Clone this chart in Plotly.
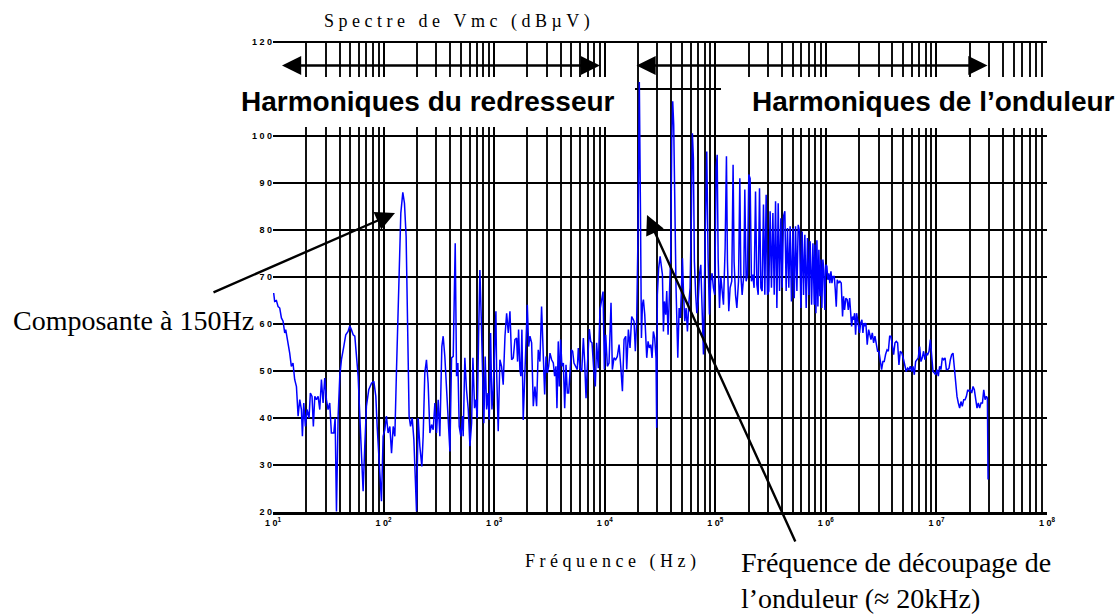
import numpy as np
import plotly.graph_objects as go

# Spectrum: frequency given in decades (log10 of Hz), level in dBuV
freq_log10 = [
    1.006, 1.015, 1.031, 1.046, 1.061, 1.076, 1.091, 1.106, 1.115, 1.136, 1.151, 1.166, 1.181, 1.196, 1.212,
    1.227, 1.242, 1.257, 1.266, 1.278, 1.293, 1.308, 1.326, 1.338, 1.353, 1.365, 1.378, 1.393, 1.408, 1.423,
    1.438, 1.453, 1.468, 1.483, 1.498, 1.513, 1.528, 1.550, 1.562, 1.574, 1.589, 1.604, 1.619, 1.640, 1.658,
    1.679, 1.694, 1.709, 1.725, 1.740, 1.755, 1.770, 1.785, 1.800, 1.815, 1.830, 1.845, 1.866, 1.891, 1.912,
    1.930, 1.942, 1.960, 1.981, 1.996, 2.011, 2.026, 2.041, 2.057, 2.072, 2.087, 2.102, 2.117, 2.141, 2.156,
    2.174, 2.189, 2.204, 2.219, 2.231, 2.244, 2.259, 2.274, 2.286, 2.298, 2.313, 2.328, 2.346, 2.358, 2.373,
    2.388, 2.403, 2.419, 2.434, 2.449, 2.464, 2.479, 2.494, 2.509, 2.527, 2.539, 2.554,
    2.600, 2.615, 2.630, 2.648, 2.660, 2.672, 2.684, 2.699, 2.714, 2.720, 2.735, 2.750, 2.766, 2.781, 2.796,
    2.808, 2.823, 2.835, 2.847, 2.859, 2.871, 2.883, 2.895, 2.907, 2.919, 2.932, 2.944, 2.956, 2.968, 2.980,
    2.992, 3.004, 3.016, 3.022, 3.037, 3.052, 3.067, 3.082, 3.098, 3.113, 3.128, 3.143, 3.158, 3.173, 3.188,
    3.203, 3.212, 3.221, 3.233, 3.242, 3.251, 3.263, 3.279, 3.288, 3.300, 3.312, 3.324, 3.339, 3.354, 3.369,
    3.384, 3.399, 3.414, 3.429, 3.445, 3.457, 3.469, 3.481, 3.493, 3.505, 3.520, 3.535, 3.547, 3.559, 3.568,
    3.580, 3.589, 3.601, 3.613, 3.626, 3.638, 3.650, 3.662, 3.674, 3.686, 3.698, 3.710, 3.722, 3.737, 3.752,
    3.761, 3.776, 3.792, 3.807, 3.819, 3.831, 3.843, 3.861, 3.873, 3.885, 3.900, 3.915, 3.927, 3.942, 3.957,
    3.973, 3.985, 3.997, 4.009, 4.024, 4.039, 4.057, 4.069, 4.084, 4.099, 4.114, 4.130, 4.145, 4.160, 4.175,
    4.190, 4.199, 4.214, 4.229, 4.244, 4.259,
    4.265, 4.277, 4.289, 4.301, 4.313, 4.323, 4.332, 4.341, 4.350, 4.362, 4.371, 4.380, 4.392, 4.404, 4.416,
    4.428, 4.440, 4.452, 4.464, 4.470, 4.476, 4.488, 4.501, 4.513, 4.522, 4.531, 4.540, 4.552, 4.561, 4.573,
    4.585, 4.597, 4.606, 4.615, 4.624, 4.633, 4.645, 4.661, 4.673, 4.685, 4.694, 4.703, 4.712, 4.724, 4.736,
    4.748, 4.760, 4.772, 4.784, 4.793, 4.802, 4.811, 4.823, 4.833, 4.845, 4.857, 4.869, 4.881, 4.893, 4.905,
    4.923, 4.935, 4.947, 4.959, 4.971, 4.983, 4.995, 5.008, 5.017, 5.026, 5.038, 5.050, 5.062, 5.074, 5.089,
    5.101, 5.110, 5.122, 5.134, 5.149, 5.161, 5.170, 5.183, 5.195, 5.210, 5.222, 5.231, 5.243, 5.258, 5.267,
    5.279, 5.291, 5.303, 5.315, 5.327, 5.339, 5.351, 5.364, 5.376, 5.388, 5.400, 5.412, 5.424, 5.436, 5.448,
    5.460, 5.472, 5.484, 5.496, 5.508, 5.521, 5.533, 5.545, 5.557, 5.569, 5.581, 5.593, 5.605, 5.617, 5.629,
    5.641, 5.653, 5.665, 5.677, 5.689, 5.702, 5.714, 5.726, 5.738, 5.750, 5.762, 5.774, 5.786, 5.798, 5.810,
    5.822, 5.834, 5.846, 5.858, 5.871, 5.883, 5.895,
    5.901, 5.910, 5.919, 5.928, 5.937, 5.946, 5.955, 5.964, 5.973, 5.982, 5.991, 6.000, 6.009, 6.018, 6.027,
    6.036, 6.046, 6.055, 6.064, 6.076, 6.085, 6.094, 6.103, 6.115, 6.127, 6.139, 6.151, 6.160, 6.169, 6.181,
    6.193, 6.203, 6.215, 6.224, 6.233, 6.242, 6.251, 6.260, 6.269, 6.278, 6.287, 6.296, 6.305, 6.314, 6.326,
    6.335, 6.344, 6.353, 6.362, 6.374, 6.387, 6.396, 6.408, 6.420, 6.432, 6.444, 6.456, 6.468, 6.480, 6.492,
    6.504, 6.516, 6.528, 6.540, 6.553, 6.565, 6.577, 6.589, 6.601, 6.613, 6.625, 6.637, 6.649, 6.661, 6.673,
    6.688, 6.703, 6.715, 6.727, 6.740, 6.752, 6.764, 6.776, 6.788, 6.800, 6.812, 6.824, 6.836, 6.848, 6.860,
    6.872, 6.884, 6.896, 6.909, 6.921, 6.933, 6.945, 6.957, 6.969, 6.981, 6.993, 7.005, 7.017, 7.029, 7.041,
    7.053, 7.065, 7.078, 7.090, 7.102, 7.114, 7.126, 7.138, 7.150, 7.162, 7.174, 7.186, 7.198, 7.210, 7.222,
    7.234, 7.247, 7.259, 7.271, 7.283, 7.295, 7.307, 7.319, 7.331, 7.343, 7.355, 7.367, 7.379, 7.391, 7.403,
    7.416, 7.428, 7.440, 7.452, 7.461, 7.467,
]

level_dbuv = [
    66.6, 64.8, 65.0, 63.7, 63.4, 61.3, 60.6, 58.1, 58.8, 56.0, 53.8, 51.0, 51.7, 48.2, 46.7,
    40.4, 43.9, 41.8, 36.1, 43.2, 38.2, 41.8, 40.0, 45.3, 44.6, 38.2, 44.6, 43.9, 44.6, 41.8,
    48.2, 43.2, 48.5, 43.9, 41.8, 43.2, 36.8, 36.8, 40.0, 20.1, 40.4, 48.9, 52.4, 55.2, 57.7,
    58.4, 59.6, 58.8, 57.7, 57.4, 53.1, 48.9, 40.4, 31.8, 24.4, 34.0, 42.5, 46.0, 47.4, 47.8,
    44.6, 38.2, 30.4, 22.3, 36.1, 37.5, 40.4, 36.8, 38.2, 32.5, 38.2, 36.1, 50.3, 71.5, 83.6,
    88.0, 85.7, 78.6, 57.4, 40.4, 38.2, 40.0, 35.4, 27.6, 20.1, 40.0, 34.0, 29.7, 36.1, 49.6,
    52.4, 47.4, 36.8, 38.6, 37.5, 43.2, 36.8, 43.9, 36.1, 55.2, 57.4, 53.1,
    32.9, 52.8, 53.1, 77.2, 48.9, 51.7, 38.2, 36.1, 40.4, 36.1, 52.8, 46.0, 41.8, 34.0, 38.9,
    52.8, 42.1, 43.9, 40.0, 56.7, 71.5, 61.6, 50.3, 38.9, 53.1, 41.8, 45.3, 39.6, 58.1, 41.8,
    46.0, 56.7, 62.7, 50.3, 37.2, 52.4, 51.0, 47.1, 57.4, 62.3, 58.1, 62.7, 52.4, 52.8, 56.7,
    57.0, 52.0, 58.8, 50.3, 48.9, 58.8, 39.6, 50.3, 58.8, 64.1, 55.2, 57.4, 56.0, 42.5, 46.7,
    42.5, 54.5, 52.0, 63.7, 51.0, 45.0, 53.1, 49.6, 51.0, 53.8, 52.4, 51.7, 48.9, 51.0, 42.1,
    56.3, 46.7, 56.7, 51.0, 51.7, 42.1, 51.3, 45.3, 45.3, 49.6, 54.5, 54.2, 51.7, 51.0, 50.3,
    54.9, 50.6, 49.9, 57.0, 51.7, 44.2, 51.0, 58.9, 56.3, 56.0, 50.6, 46.7, 56.0, 50.6, 63.0,
    65.9, 66.9, 50.3, 57.7, 51.0, 51.7, 64.5, 50.3, 52.8, 52.4, 53.1, 55.6, 51.0, 45.7, 56.7,
    57.4, 50.3, 58.8, 54.9, 61.6, 60.9,
    60.6, 54.2, 60.6, 79.0, 111.5, 84.7, 57.0, 64.1, 65.2, 62.0, 57.0, 52.8, 56.3, 54.9, 55.6,
    52.8, 58.4, 57.0, 52.8, 37.9, 66.2, 71.9, 74.4, 71.9, 70.5, 58.4, 64.8, 62.0, 67.0, 57.7,
    69.1, 74.7, 98.9, 107.4, 102.4, 81.1, 67.7, 52.8, 63.4, 61.3, 70.5, 74.0, 67.0, 60.6, 63.4,
    58.4, 64.1, 67.7, 83.3, 100.6, 95.3, 73.3, 66.2, 62.3, 64.8, 70.5, 72.6, 63.4, 53.5, 73.3,
    96.7, 74.0, 62.0, 69.1, 70.8, 67.7, 66.2, 93.2, 96.0, 74.0, 63.4, 70.1, 67.7, 64.1, 76.2,
    95.7, 73.3, 62.7, 67.7, 69.1, 93.9, 73.3, 66.2, 63.4, 69.1, 91.0, 70.5, 66.2, 70.5, 88.6,
    69.1, 70.5, 91.8, 91.0, 69.1, 70.5, 67.7, 88.2, 68.4, 66.2, 88.9, 67.7, 67.0, 85.4, 66.2,
    87.5, 66.2, 67.0, 84.0, 67.7, 83.6, 66.2, 86.1, 63.4, 85.7, 67.0, 82.5, 67.7, 82.9, 84.0,
    67.0, 80.4, 67.7, 80.8, 64.8, 80.4, 65.5, 80.8, 67.0, 81.1, 79.7, 63.4, 79.7, 66.2, 79.0,
    63.4, 78.3, 66.2, 77.6, 64.1, 77.2, 64.1,
    76.9, 62.3, 77.8, 63.7, 75.8, 65.9, 73.7, 63.4, 73.7, 71.5, 63.0, 72.6, 72.3, 69.4, 70.8,
    68.7, 71.2, 68.7, 70.1, 70.1, 67.3, 63.7, 69.4, 68.7, 69.1, 68.7, 61.6, 65.9, 63.0, 65.5,
    65.2, 63.0, 65.5, 62.3, 59.5, 61.6, 60.9, 62.3, 57.7, 62.3, 60.2, 59.5, 58.1, 60.2, 60.9,
    58.1, 60.2, 59.5, 60.2, 55.6, 58.8, 57.7, 56.7, 58.1, 56.0, 57.4, 56.0, 54.2, 54.2, 52.4,
    50.3, 52.0, 52.0, 53.5, 54.5, 54.2, 57.4, 57.4, 55.6, 53.5, 56.0, 56.3, 56.0, 51.3, 54.2,
    53.8, 52.4, 51.3, 49.9, 50.6, 50.3, 51.0, 49.9, 51.0, 49.2, 52.0, 52.4, 52.8, 55.2, 52.0,
    52.8, 54.2, 52.4, 53.8, 53.5, 54.2, 56.7, 52.4, 49.9, 49.6, 49.2, 50.3, 48.9, 51.0, 50.3,
    52.8, 52.4, 52.8, 50.3, 50.3, 50.6, 52.4, 53.5, 53.8, 51.0, 46.7, 44.6, 43.2, 42.1, 43.5,
    42.5, 43.9, 43.9, 44.6, 46.0, 45.7, 46.0, 45.3, 46.7, 46.0, 43.9, 42.1, 43.2, 42.1, 43.2,
    43.2, 46.0, 43.9, 44.6, 44.2, 26.9,
]

y_tick_values = [20, 30, 40, 50, 60, 70, 80, 90, 100, 110, 120]
y_tick_labels = ["2 0", "3 0", "4 0", "5 0", "6 0", "7 0", "8 0", "9 0", "1 0 0", "", "1 2 0"]
x_tick_values = [1e1, 1e2, 1e3, 1e4, 1e5, 1e6, 1e7, 1e8]
x_tick_labels = ["1 0<sup>1</sup>", "1 0<sup>2</sup>", "1 0<sup>3</sup>", "1 0<sup>4</sup>",
                 "1 0<sup>5</sup>", "1 0<sup>6</sup>", "1 0<sup>7</sup>", "1 0<sup>8</sup>"]
minor_grid = [m * 10 ** d for d in range(1, 8) for m in range(2, 10)]

SERIF = "Liberation Serif, Times New Roman, serif"
SANS = "Liberation Sans, Arial, sans-serif"
NB = "\u00a0"


def spaced(word_list):
    return (NB * 3).join(NB.join(list(w)) for w in word_list)


freq_hz = 10 ** np.array(freq_log10)

fig = go.Figure()
fig.add_trace(go.Scatter(x=freq_hz, y=level_dbuv, mode="lines",
                         line=dict(color="#0000FF", width=1.5), hoverinfo="skip"))

L, R, T, B = 273, 69, 42, 104
W, H = 1116, 616
PW, PH = W - L - R, H - T - B


def px(xp):
    return (xp - L) / PW


def py(yp):
    return (H - B - yp) / PH


fig.update_layout(
    width=W, height=H, margin=dict(l=L, r=R, t=T, b=B),
    plot_bgcolor="white", paper_bgcolor="white", showlegend=False,
)
fig.update_xaxes(
    type="log", range=[1, 8], tickvals=x_tick_values, ticktext=x_tick_labels,
    showgrid=True, gridcolor="#000000", gridwidth=2,
    minor=dict(tickvals=minor_grid, showgrid=True, gridcolor="#111111", gridwidth=1.6, ticks=""),
    ticks="", showline=True, linecolor="black", linewidth=2.8, zeroline=False,
    tickfont=dict(family=SANS, size=9, color="black", weight="bold"),
)
fig.update_yaxes(
    range=[20, 120], tickvals=y_tick_values, ticktext=y_tick_labels,
    showgrid=True, gridcolor="#000000", gridwidth=1.6, ticks="", zeroline=False,
    showline=False,
    tickfont=dict(family=SANS, size=9, color="black", weight="bold"),
)

shapes = [
    # white label bands that interrupt the grid
    dict(type="rect", xref="paper", yref="paper", x0=px(240), x1=px(635), y0=py(127), y1=py(77),
         fillcolor="white", line=dict(width=0), layer="above"),
    dict(type="rect", xref="paper", yref="paper", x0=px(721), x1=px(1116), y0=py(128), y1=py(77),
         fillcolor="white", line=dict(width=0), layer="above"),
    # top frame line
    dict(type="line", xref="paper", yref="paper", x0=0, x1=1, y0=1, y1=1,
         line=dict(color="black", width=2.2), layer="above"),
]
fig.update_layout(shapes=shapes)

ann = []
ann.append(dict(text=spaced(["Spectre", "de", "Vmc", "(dBµV)"]), xref="paper", yref="paper",
                x=px(457), y=py(21), showarrow=False, xanchor="center", yanchor="middle",
                font=dict(family=SERIF, size=18, color="black")))
ann.append(dict(text=spaced(["Fréquence", "(Hz)"]), xref="paper", yref="paper",
                x=px(610), y=py(561), showarrow=False, xanchor="center", yanchor="middle",
                font=dict(family=SERIF, size=18, color="black")))
ann.append(dict(text="<b>Harmoniques du redresseur</b>", xref="paper", yref="paper",
                x=px(428), y=py(101), showarrow=False, xanchor="center", yanchor="middle",
                font=dict(family=SANS, size=28, color="black")))
ann.append(dict(text="<b>Harmoniques de l’onduleur</b>", xref="paper", yref="paper",
                x=px(933), y=py(101), showarrow=False, xanchor="center", yanchor="middle",
                font=dict(family=SANS, size=28, color="black")))
ann.append(dict(text="Composante à 150Hz", xref="paper", yref="paper",
                x=px(11), y=py(320), showarrow=False, xanchor="left", yanchor="middle",
                font=dict(family=SERIF, size=28, color="black")))
ann.append(dict(text="Fréquence de découpage de<br>l’onduleur (≈ 20kHz)", xref="paper", yref="paper",
                x=px(739), y=py(580), showarrow=False, xanchor="left", yanchor="middle", align="left",
                font=dict(family=SERIF, size=28, color="black")))

# arrows (tip position, tail offset in pixels)
arrow_style = dict(text="", showarrow=True, arrowcolor="black", arrowhead=2, arrowsize=1.6,
                   arrowwidth=2.4, xref="paper", yref="paper", standoff=0, startstandoff=0,
                   font=dict(size=1))
ann.append(dict(x=px(395), y=py(213), ax=212 - 395, ay=293 - 213, **arrow_style))
ann.append(dict(x=px(647), y=py(215), ax=796 - 647, ay=543 - 215, **arrow_style))
ann.append(dict(x=px(600), y=py(65.5), ax=280.5 - 600, ay=0, arrowside="end+start",
                startarrowhead=2, startarrowsize=1.6, **arrow_style))
ann.append(dict(x=px(987.5), y=py(65.5), ax=635 - 987.5, ay=0, arrowside="end+start",
                startarrowhead=2, startarrowsize=1.6, **arrow_style))
fig.update_layout(annotations=ann)

fig.write_html("out.html", config={"displayModeBar": False},
               post_script="document.body.style.margin='0px';document.body.style.overflow='hidden';")
